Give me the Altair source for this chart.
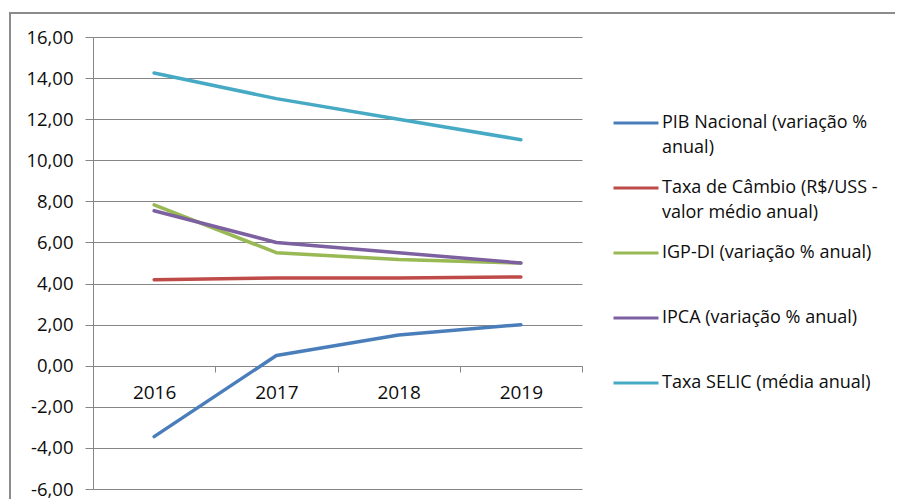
import altair as alt
import pandas as pd

years = ["2016", "2017", "2018", "2019"]
series_names = [
    "PIB Nacional (variação %|anual)",
    "Taxa de Câmbio (R$/USS -|valor médio anual)",
    "IGP-DI (variação % anual)|",
    "IPCA (variação % anual)|",
    "Taxa SELIC (média anual)|",
]
pib = [-3.45, 0.5, 1.5, 2.0]
cambio = [4.18, 4.27, 4.27, 4.32]
igp = [7.83, 5.5, 5.17, 5.0]
ipca = [7.54, 6.0, 5.5, 5.0]
selic = [14.25, 13.0, 12.0, 11.0]
colors = ["#4A7EBB", "#BE4B48", "#98B954", "#7D60A0", "#46AAC5"]
y_ticks = [-6, -4, -2, 0, 2, 4, 6, 8, 10, 12, 14, 16]

rows = []
for name, vals in zip(series_names, [pib, cambio, igp, ipca, selic]):
    for yr, v in zip(years, vals):
        rows.append({"ano": yr, "serie": name, "valor": v})
df = pd.DataFrame(rows)

FONT = "Open Sans"
TXT = "#0d0d0d"

lines = alt.Chart(df).mark_line(strokeWidth=3.5, strokeCap="round",
                                strokeJoin="round").encode(
    x=alt.X("ano:N", sort=years, title=None,
            scale=alt.Scale(paddingInner=0, paddingOuter=0),
            axis=alt.Axis(offset=-123, labelAngle=0, domainColor="#868686",
                          tickColor="#868686", tickBand="extent", tickSize=6,
                          labelPadding=11, labelFontSize=19, labelColor=TXT,
                          labelFont=FONT, grid=False)),
    y=alt.Y("valor:Q", title=None,
            scale=alt.Scale(domain=[-6, 16], nice=False, zero=False),
            axis=alt.Axis(values=y_ticks, format=".2f",
                          labelExpr="replace(replace(datum.label, '.', ','), '\u2212', '-')",
                          domainColor="#868686", tickColor="#868686", tickSize=8,
                          gridColor="#868686", gridWidth=1,
                          labelFontSize=18.5, labelColor=TXT, labelFont=FONT,
                          labelPadding=12)),
    color=alt.Color("serie:N", sort=series_names, title=None,
                    scale=alt.Scale(domain=series_names, range=colors),
                    legend=alt.Legend(orient="none", legendX=519, legendY=62,
                                      symbolType="stroke", symbolStrokeWidth=3,
                                      symbolSize=2025, labelFontSize=18, labelFont=FONT,
                                      labelColor=TXT, labelLimit=400,
                                      labelExpr="split(datum.label, '|')",
                                      rowPadding=7, labelOffset=2)),
)

frame = alt.Chart(pd.DataFrame({"k": [0]})).mark_rect(
    fill=None, stroke="#8c8c8c", strokeWidth=2
).encode(x=alt.value(-83), x2=alt.value(900), y=alt.value(-24), y2=alt.value(600))

chart = alt.layer(frame, lines).properties(
    width=489, height=452,
    autosize=alt.AutoSizeParams(type="none"),
    padding={"left": 85, "top": 29, "right": 313, "bottom": 10},
).configure(
    background="white",
    style={"guide-label": {"lineHeight": 25}},
).configure_view(stroke=None)

chart.save("out.html", embed_options={"renderer": "svg", "actions": False})
